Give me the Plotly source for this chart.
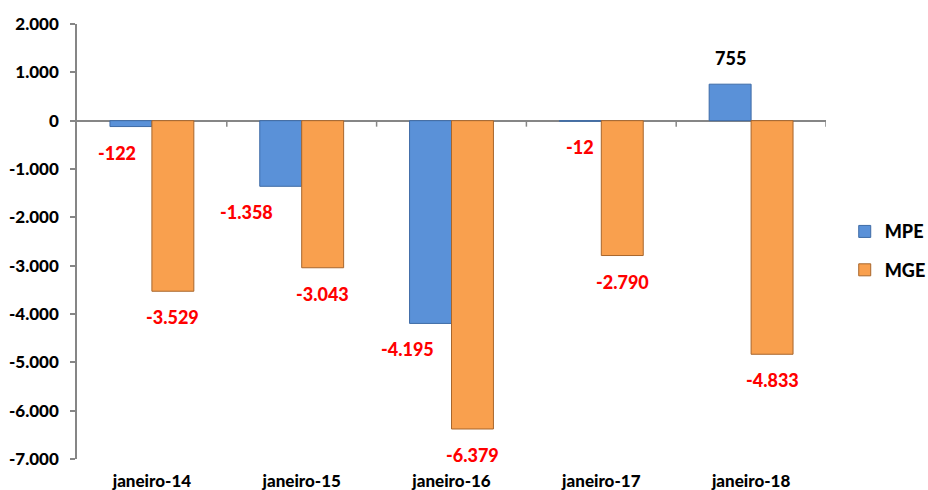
import plotly.graph_objects as go

categories = ["janeiro-14", "janeiro-15", "janeiro-16", "janeiro-17", "janeiro-18"]
mpe_values = [-122, -1358, -4195, -12, 755]
mge_values = [-3529, -3043, -6379, -2790, -4833]
mpe_labels = ["-122", "-1.358", "-4.195", "-12", "755"]
mge_labels = ["-3.529", "-3.043", "-6.379", "-2.790", "-4.833"]
y_ticks = [2000, 1000, 0, -1000, -2000, -3000, -4000, -5000, -6000, -7000]
y_tick_labels = ["2.000", "1.000", "0", "-1.000", "-2.000", "-3.000",
                 "-4.000", "-5.000", "-6.000", "-7.000"]

# style: manual label nudges (pixels) as in the original
mpe_label_dx = [-14, -34, -23, 0, 0]
mge_label_dx = [0, 0, 0, 0, 0]

FONT = "Lato"
WEIGHT = 900
BAR_W = 0.28
GRAY = "#868686"

fig = go.Figure()
fig.add_trace(go.Bar(
    name="MPE", x=categories, y=mpe_values, width=BAR_W, offset=-BAR_W,
    marker=dict(color="#5A91D8", line=dict(color="#3E6BA6", width=1)),
    legendgroup="a",
))
fig.add_trace(go.Bar(
    name="MGE", x=categories, y=mge_values, width=BAR_W, offset=0,
    marker=dict(color="#F9A04E", line=dict(color="#A8662C", width=1)),
    legendgroup="b",
))

annotations = []
for i, (v, t, dx) in enumerate(zip(mpe_values, mpe_labels, mpe_label_dx)):
    annotations.append(dict(
        x=i - BAR_W / 2, y=v, xref="x", yref="y", text=t, showarrow=False,
        xshift=dx, yshift=26 if v > 0 else -26,
        font=dict(family=FONT, size=18, color="black" if v > 0 else "#FF0000", weight=WEIGHT),
    ))
for i, (v, t, dx) in enumerate(zip(mge_values, mge_labels, mge_label_dx)):
    annotations.append(dict(
        x=i + BAR_W / 2, y=v, xref="x", yref="y", text=t, showarrow=False,
        xshift=dx, yshift=26 if v > 0 else -26,
        font=dict(family=FONT, size=18, color="#FF0000", weight=WEIGHT),
    ))

shapes = []
for k in range(len(categories)):
    shapes.append(dict(
        type="line", xref="x", yref="y", x0=k + 0.5, x1=k + 0.5,
        ysizemode="pixel", yanchor=0, y0=0, y1=-6,
        line=dict(color=GRAY, width=1.5),
    ))

fig.update_layout(
    width=928, height=490,
    margin=dict(l=77, r=102, t=24, b=31, autoexpand=False),
    plot_bgcolor="white", paper_bgcolor="white",
    barmode="group",
    showlegend=True,
    legend=dict(
        x=1.025, xanchor="left", y=0.565, yanchor="top",
        font=dict(family=FONT, size=18, color="black", weight=WEIGHT),
        traceorder="grouped", tracegroupgap=12,
        bgcolor="rgba(0,0,0,0)",
    ),
    annotations=annotations,
    shapes=shapes,
    xaxis=dict(
        type="category", range=[-0.5, len(categories) - 0.5],
        showline=False, ticks="", showgrid=False, automargin=False,
        tickfont=dict(family=FONT, size=17, color="black", weight=WEIGHT),
        ticklabelstandoff=10,
    ),
    yaxis=dict(
        range=[-7000, 2000], tickvals=y_ticks, ticktext=y_tick_labels,
        showgrid=False, showline=True, linecolor=GRAY, linewidth=1.5,
        ticks="outside", ticklen=5, tickcolor=GRAY, tickwidth=1.5,
        zeroline=True, zerolinecolor=GRAY, zerolinewidth=1.5, automargin=False,
        tickfont=dict(family=FONT, size=17, color="black", weight=WEIGHT),
        ticklabelstandoff=8,
    ),
)

fig.write_html("out.html", config={"displayModeBar": False},
               post_script="document.body.style.margin='0';")
